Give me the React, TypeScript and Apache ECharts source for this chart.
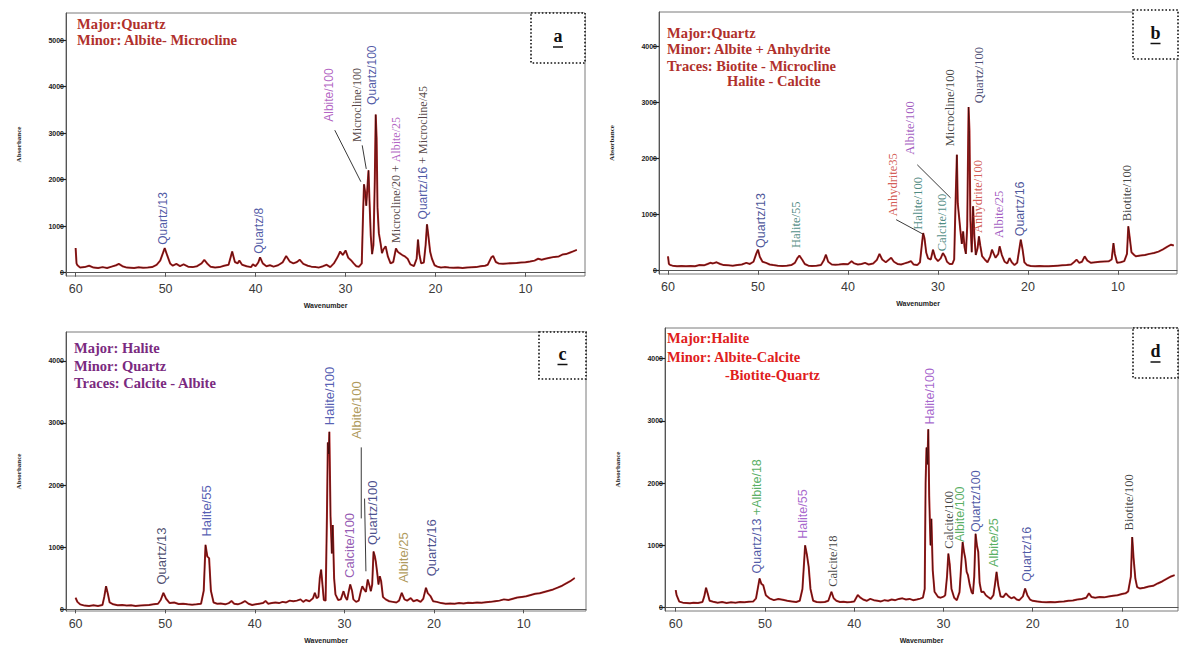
import React, { useEffect, useRef } from "react";
import * as echarts from "echarts";

// ---------- Panel a ----------
const thetaA = [60.0,59.9,59.8,59.5,59.0,58.5,58.0,57.5,57.0,56.5,56.0,55.5,55.2,54.8,54.3,53.5,53.0,52.5,52.0,51.5,51.0,50.6,50.3,50.1,49.8,49.5,49.2,48.8,48.4,48.0,47.5,47.0,46.5,46.0,45.7,45.3,45.0,44.5,44.0,43.5,43.0,42.6,42.3,42.0,41.8,41.5,41.0,40.5,40.3,40.0,39.7,39.5,39.2,38.8,38.4,38.0,37.5,37.0,36.6,36.2,35.8,35.4,35.1,34.7,34.2,33.8,33.3,33.0,32.5,32.1,31.7,31.3,30.9,30.6,30.3,30.0,29.7,29.4,29.1,28.8,28.5,28.2,28.05,27.95,27.8,27.7,27.55,27.45,27.35,27.2,27.05,26.9,26.75,26.65,26.55,26.45,26.3,26.1,25.95,25.8,25.55,25.3,25.0,24.7,24.4,24.2,24.0,23.7,23.4,23.1,22.8,22.4,22.1,21.95,21.8,21.6,21.3,21.1,20.95,20.8,20.6,20.4,20.1,19.8,19.4,19.0,18.5,18.0,17.5,17.0,16.5,16.0,15.5,15.0,14.5,14.2,13.8,13.6,13.3,13.0,12.5,12.0,11.5,11.0,10.5,10.0,9.5,9.0,8.6,8.2,7.8,7.3,6.8,6.3,5.9,5.5,5.1,4.7,4.3];
const countsA = [530,200,160,110,120,150,110,100,120,100,130,160,190,140,110,100,115,105,110,120,170,260,420,530,360,200,150,190,140,180,130,120,140,200,275,180,130,110,120,150,170,455,230,200,260,170,140,120,180,140,220,330,200,140,160,130,160,220,360,240,200,230,280,190,150,130,120,110,140,170,120,200,330,455,380,480,320,270,200,140,130,200,1300,1900,1700,1440,1900,2200,1600,800,400,600,2000,3400,2900,1400,850,620,420,500,570,350,200,230,520,450,420,380,350,300,180,140,300,710,400,200,220,600,1040,800,450,300,160,130,110,120,110,105,110,100,110,115,120,140,150,170,330,360,230,200,190,200,205,210,220,225,240,260,300,280,300,320,340,350,390,400,430,460,490];
const labelTextA = ["Quartz/13","Quartz/8","Albite/100","Microcline/100","Quartz/100","{k|Microcline/20 + }{p|Albite/25}","{q|Quartz/16}{k| + Microcline/45}"];
const labelXA = [50.25,39.6,31.85,28.7,27.1,24.4,21.35];
const labelYA = [600,406,3246,2811,3609,638,1145];
const labelColorA = ["#1f2f8f","#1f2f8f","#a03cb4","#2b1414","#1f2f8f","#2b1414","#2b1414"];
const labelFontA = ["sans","sans","sans","serif","sans","serif","sans"];
const leadersA = [[[31.2,3065],[28.3,1957]],[[28.15,2739],[27.7,2232]]];
const headerA = ["Major:Quartz","Minor: Albite- Microcline"];

// ---------- Panel b ----------
const thetaB = [60.0,59.9,59.75,59.5,59.0,58.5,58.0,57.5,57.0,56.5,56.0,55.6,55.3,55.0,54.6,54.2,53.8,53.3,52.8,52.3,51.8,51.3,50.9,50.5,50.2,50.0,49.8,49.5,49.1,48.7,48.3,47.8,47.3,46.8,46.3,45.9,45.6,45.4,45.1,44.8,44.4,44.0,43.5,43.0,42.7,42.45,42.2,41.8,41.4,41.0,40.5,40.0,39.6,39.3,38.9,38.5,38.1,37.7,37.2,36.8,36.5,36.2,35.8,35.5,35.2,34.9,34.5,34.1,33.7,33.3,33.0,32.7,32.3,32.0,31.8,31.65,31.5,31.3,31.1,30.8,30.55,30.3,30.0,29.7,29.45,29.2,29.0,28.7,28.4,28.2,28.05,27.9,27.8,27.65,27.5,27.35,27.2,27.05,26.9,26.75,26.6,26.5,26.4,26.25,26.1,25.95,25.8,25.6,25.45,25.3,25.1,24.8,24.5,24.2,24.0,23.8,23.6,23.3,23.15,22.9,22.6,22.3,22.05,21.8,21.5,21.2,20.95,20.8,20.6,20.4,20.1,19.7,19.2,18.7,18.2,17.7,17.2,16.7,16.2,15.7,15.2,14.9,14.6,14.3,14.0,13.7,13.4,13.0,12.5,12.0,11.5,11.0,10.7,10.5,10.35,10.1,9.7,9.3,9.0,8.85,8.7,8.5,8.2,8.0,7.5,7.0,6.5,6.0,5.5,5.0,4.5,4.1,3.8];
const countsB = [255,120,100,90,80,85,80,85,80,100,95,120,140,130,150,120,100,95,90,100,110,140,120,160,300,375,250,160,140,110,100,90,85,90,100,140,230,268,200,120,90,85,90,100,180,285,160,110,105,110,120,115,170,130,110,120,140,110,130,190,300,200,150,190,230,160,120,110,130,150,170,110,100,150,450,673,580,320,220,200,375,230,170,220,315,250,160,120,120,200,1200,2070,1200,950,700,480,700,420,300,800,2920,2500,900,330,1150,600,280,400,613,450,260,200,150,250,375,300,230,300,435,280,160,130,226,150,100,140,400,553,380,150,100,85,80,85,80,80,85,90,95,100,110,150,196,140,160,256,180,140,150,160,165,170,200,494,300,140,150,170,300,792,600,330,280,256,270,280,300,315,340,380,430,464,450];
const labelTextB = ["Quartz/13","Halite/55","Anhydrite35","Albite/100","Halite/100","Calcite/100","Microcline/100","Quartz/100","Anhydrite/100","Albite/25","Quartz/16","Biotite/100"];
const labelXB = [49.7,45.8,35.0,33.1,32.25,29.6,28.65,25.4,25.5,23.2,20.85,9.0];
const labelYB = [405,405,970,2071,732,345,2220,2990,673,583,613,881];
const labelColorB = ["#1a2a80","#1d6b5f","#c8322a","#8a2fb0","#1d6b5f","#1d6b5f","#111111","#1a1a50","#c8322a","#8a2fb0","#1a2a80","#111111"];
const labelFontB = ["sans","serif","serif","serif","serif","serif","serif","serif","serif","serif","sans","serif"];
const leadersB = [[[34.65,911],[31.75,660]],[[32.3,1890],[28.6,1300]]];
const headerB = ["Major:Quartz","Minor: Albite + Anhydrite","Traces: Biotite - Microcline","Halite - Calcite"];

// ---------- Panel c ----------
const thetaC = [60.0,59.8,59.5,59.0,58.5,58.0,57.5,57.0,56.8,56.6,56.4,56.2,55.8,55.3,54.8,54.3,53.8,53.3,52.8,52.3,51.8,51.3,50.8,50.5,50.2,49.9,49.5,49.0,48.5,48.0,47.5,47.0,46.5,46.0,45.7,45.5,45.3,45.1,44.9,44.6,44.2,43.8,43.3,42.9,42.6,42.3,41.9,41.5,41.1,40.7,40.3,39.9,39.5,39.1,38.8,38.5,38.1,37.7,37.3,36.9,36.5,36.1,35.7,35.3,34.9,34.6,34.3,33.9,33.5,33.3,33.1,32.9,32.75,32.6,32.45,32.3,32.1,31.95,31.85,31.75,31.68,31.55,31.4,31.3,31.15,31.0,30.7,30.4,30.1,29.9,29.7,29.5,29.35,29.15,29.0,28.7,28.4,28.15,28.0,27.8,27.6,27.4,27.2,27.05,26.9,26.75,26.6,26.5,26.35,26.2,26.05,25.9,25.7,25.4,25.0,24.6,24.2,23.9,23.6,23.3,23.0,22.6,22.3,21.9,21.5,21.2,20.9,20.7,20.4,20.1,19.7,19.2,18.7,18.2,17.7,17.2,16.7,16.2,15.7,15.2,14.7,14.2,13.7,13.2,12.7,12.2,11.7,11.2,10.7,10.2,9.7,9.2,8.7,8.2,7.7,7.2,6.7,6.2,5.7,5.2,4.8,4.3];
const countsC = [186,120,80,60,55,65,55,70,200,372,250,110,80,65,70,60,65,55,60,65,70,80,90,150,266,170,100,110,85,90,80,75,80,90,300,1037,850,824,300,110,90,95,80,100,133,90,80,100,133,90,70,80,90,100,133,90,100,110,100,120,110,140,130,140,160,120,150,130,180,266,180,200,500,638,400,150,140,1500,2686,2500,2856,1500,900,1356,500,240,150,160,292,200,150,300,400,300,160,120,140,300,372,320,280,479,380,292,400,930,850,771,600,400,532,450,200,160,130,120,110,140,266,160,140,180,130,150,120,170,346,260,213,130,120,100,90,95,90,100,95,105,100,110,105,115,120,130,140,160,150,170,190,200,210,230,250,260,280,300,320,350,380,420,452,505];
const labelTextC = ["Quartz/13","Halite/55","Halite/100","Albite/100","Calcite/100","Quartz/100","Albite/25","Quartz/16"];
const labelXC = [50.4,45.4,31.65,28.6,29.4,26.9,23.4,20.3];
const labelYC = [399,1170,2963,2740,505,1037,426,532];
const labelColorC = ["#1c1c4a","#2a35a0","#2a35a0","#9a8030","#7a30a0","#1c2470","#9a8030","#1c2470"];
const labelFontC = ["sans","sans","sans","sans","sans","sans","sans","sans"];
const leadersC = [[[28.12,2606],[28.12,1463]],[[27.75,1782],[27.6,612]]];
const headerC = ["Major: Halite","Minor: Quartz","Traces: Calcite - Albite"];

// ---------- Panel d ----------
const thetaD = [60.0,59.9,59.6,59.2,58.8,58.4,58.0,57.5,57.0,56.8,56.6,56.4,56.2,55.8,55.3,54.8,54.3,53.8,53.3,52.8,52.3,51.8,51.3,51.0,50.75,50.6,50.4,50.2,49.9,49.5,49.0,48.5,48.0,47.5,47.0,46.5,46.1,45.8,45.5,45.3,45.1,44.9,44.6,44.2,43.8,43.3,42.9,42.55,42.3,42.0,41.6,41.2,40.8,40.4,40.0,39.6,39.3,39.0,38.6,38.2,37.8,37.4,37.0,36.6,36.2,35.8,35.4,35.0,34.6,34.2,33.8,33.4,33.0,32.6,32.3,32.1,32.0,31.9,31.8,31.7,31.6,31.45,31.35,31.2,31.0,30.6,30.3,30.0,29.8,29.6,29.45,29.3,29.1,28.8,28.5,28.2,28.0,27.85,27.7,27.55,27.4,27.25,27.05,26.85,26.7,26.55,26.4,26.25,26.1,25.95,25.75,25.5,25.25,25.0,24.7,24.4,24.2,24.05,23.85,23.6,23.3,23.0,22.7,22.4,22.1,21.8,21.5,21.1,20.85,20.6,20.3,20.0,19.5,19.0,18.5,18.0,17.5,17.0,16.5,16.0,15.5,15.0,14.5,14.0,13.7,13.4,13.0,12.5,12.0,11.5,11.0,10.5,10.0,9.6,9.3,9.0,8.85,8.7,8.5,8.3,8.0,7.5,7.0,6.5,6.0,5.5,5.0,4.5,4.1];
const countsD = [282,200,96,80,75,69,80,75,90,180,319,220,110,96,80,90,75,85,80,90,85,96,100,150,350,468,380,362,200,149,120,140,125,110,100,90,110,300,1000,850,654,300,110,90,85,90,110,255,150,110,90,95,85,90,100,202,160,130,110,140,120,110,100,120,110,130,120,140,149,130,140,120,130,145,160,300,2000,2570,2300,2862,1800,1000,1425,600,255,170,160,176,200,500,867,700,300,160,120,250,700,1053,900,787,574,520,362,250,220,500,1186,1000,894,400,250,255,200,170,140,200,400,574,350,180,170,229,180,150,170,130,120,180,308,200,130,110,100,90,85,90,85,95,100,110,115,130,140,160,229,170,160,170,165,180,190,200,220,230,260,500,1133,800,468,330,308,320,340,350,388,420,460,500,521];
const labelTextD = ["{q|Quartz/13 }{g|+Albite/18}","Halite/55","Calcite/18","Halite/100","Calcite/100","Albite/100","Quartz/100","Albite/25","Quartz/16","Biotite/100"];
const labelXD = [50.86,45.7,42.4,31.5,29.4,28.1,26.4,24.3,20.66,9.16];
const labelYD = [548,1106,335,2941,947,1053,1213,654,415,1239];
const labelColorD = ["#1f2f8f","#9040c0","#111111","#9040c0","#111111","#2e9a3a","#1f2f8f","#2e9a3a","#1f2f8f","#111111"];
const labelFontD = ["sans","sans","serif","sans","serif","sans","sans","sans","sans","serif"];
const leadersD: number[][][] = [];
const headerD = ["Major:Halite","Minor: Albite-Calcite","-Biotite-Quartz"];

const xTicks = [10, 20, 30, 40, 50, 60];
const yTicksA = [0, 1000, 2000, 3000, 4000, 5000];
const yTicksBCD = [0, 1000, 2000, 3000, 4000];

const SANS = '"Liberation Sans", Arial, sans-serif';
const SERIF = '"Liberation Serif", "Times New Roman", serif';

type PanelCfg = {
  theta: number[]; counts: number[];
  labels: string[]; lx: number[]; ly: number[]; lc: string[]; lf: string[];
  leaders: number[][][];
  grid: { left: number; top: number; width: number; height: number };
  xMin: number; xMax: number; yMin: number; yMax: number; yTicks: number[];
  fontSize: number;
};

const panels: PanelCfg[] = [
  { theta: thetaA, counts: countsA, labels: labelTextA, lx: labelXA, ly: labelYA, lc: labelColorA, lf: labelFontA, leaders: leadersA,
    grid: { left: 66, top: 13, width: 519, height: 263 }, xMin: 3.39, xMax: 61.07, yMin: -71, yMax: 5585, yTicks: yTicksA, fontSize: 12 },
  { theta: thetaB, counts: countsB, labels: labelTextB, lx: labelXB, ly: labelYB, lc: labelColorB, lf: labelFontB, leaders: leadersB,
    grid: { left: 659, top: 12, width: 518, height: 262 }, xMin: 3.44, xMax: 61.0, yMin: -59, yMax: 4617, yTicks: yTicksBCD, fontSize: 12.5 },
  { theta: thetaC, counts: countsC, labels: labelTextC, lx: labelXC, ly: labelYC, lc: labelColorC, lf: labelFontC, leaders: leadersC,
    grid: { left: 66, top: 332, width: 520, height: 281 }, xMin: 3.04, xMax: 61.07, yMin: -27, yMax: 4463, yTicks: yTicksBCD, fontSize: 13 },
  { theta: thetaD, counts: countsD, labels: labelTextD, lx: labelXD, ly: labelYD, lc: labelColorD, lf: labelFontD, leaders: leadersD,
    grid: { left: 665, top: 328, width: 513, height: 285 }, xMin: 3.72, xMax: 61.2, yMin: -54, yMax: 4489, yTicks: yTicksBCD, fontSize: 12.5 },
];

const richStyles = (fs: number) => ({
  k: { color: "#2b1414", fontFamily: SERIF, fontSize: fs },
  p: { color: "#a03cb4", fontFamily: SERIF, fontSize: fs },
  q: { color: "#1f2f8f", fontFamily: SANS, fontSize: fs },
  g: { color: "#2e9a3a", fontFamily: SANS, fontSize: fs },
});

function headerTexts(lines: string[], xs: number[], ys: number[], color: string) {
  return lines.map((t, i) => ({
    type: "text",
    silent: true,
    style: { text: t, x: xs[i], y: ys[i], fill: color, font: `bold 14.5px ${SERIF}`, textVerticalAlign: "middle" },
  }));
}

function letterBox(x: number, y: number, w: number, h: number, letter: string) {
  return [
    { type: "rect", silent: true, shape: { x, y, width: w, height: h },
      style: { fill: "#fff", stroke: "#111", lineWidth: 1.6, lineDash: [1.6, 2] } },
    { type: "text", silent: true,
      style: { text: letter, x: x + w / 2, y: y + h / 2 - 2, fill: "#111", font: `bold 18px ${SERIF}`, textAlign: "center", textVerticalAlign: "middle" } },
    { type: "line", silent: true, shape: { x1: x + w / 2 - 5, y1: y + h / 2 + 9, x2: x + w / 2 + 5, y2: y + h / 2 + 9 },
      style: { stroke: "#111", lineWidth: 1.5 } },
  ];
}

export default function App() {
  const ref = useRef<HTMLDivElement>(null);
  useEffect(() => {
    if (!ref.current) return;
    const chart = echarts.init(ref.current, null, { renderer: "svg" });
    const grids = panels.map((p) => ({ ...p.grid, show: true, borderColor: "#7a7a7a", borderWidth: 1, backgroundColor: "transparent", containLabel: false }));
    const xAxes = panels.map((p, i) => ({
      type: "value", gridIndex: i, inverse: true, min: p.xMin, max: p.xMax,
      name: "Wavenumber", nameLocation: "middle", nameGap: 26,
      nameTextStyle: { fontSize: 7, fontWeight: "bold", color: "#222", fontFamily: SANS },
      axisLine: { show: true, lineStyle: { color: "#555", width: 1 } },
      axisTick: { show: true, customValues: xTicks, length: 4, lineStyle: { color: "#555" } },
      axisLabel: { show: true, customValues: xTicks, fontSize: 12.5, color: "#3a3a3a", fontFamily: SANS, margin: 6,
        formatter: (v: number) => String(Math.round(v)) },
      splitLine: { show: false },
    }));
    const yAxes = panels.map((p, i) => ({
      type: "value", gridIndex: i, min: p.yMin, max: p.yMax,
      name: "Absorbance", nameLocation: "middle", nameGap: 44, nameRotate: 90,
      nameTextStyle: { fontSize: 7, fontWeight: "bold", color: "#222", fontFamily: SERIF },
      axisLine: { show: true, lineStyle: { color: "#555", width: 1 } },
      axisTick: { show: true, customValues: p.yTicks, length: 6, lineStyle: { color: "#222", width: 1.2 } },
      axisLabel: { show: true, customValues: p.yTicks, fontSize: 7, fontWeight: "bold", color: "#222", fontFamily: SANS, margin: 2,
        formatter: (v: number) => String(Math.round(v)) },
      splitLine: { show: false },
    }));
    const series: any[] = [];
    panels.forEach((p, i) => {
      const data = p.theta.map((t, j) => [t, p.counts[j]]);
      series.push({ type: "line", xAxisIndex: i, yAxisIndex: i, data, showSymbol: false, silent: true,
        lineStyle: { color: "#b82525", width: 2 }, z: 2 });
      series.push({ type: "line", xAxisIndex: i, yAxisIndex: i, data, showSymbol: false, silent: true,
        lineStyle: { color: "#2a0a0a", width: 0.8, opacity: 0.85 }, z: 3 });
      p.leaders.forEach((seg) => {
        series.push({ type: "line", xAxisIndex: i, yAxisIndex: i, data: seg, showSymbol: false, silent: true,
          lineStyle: { color: "#222", width: 0.9 }, z: 4 });
      });
      series.push({
        type: "scatter", xAxisIndex: i, yAxisIndex: i, symbolSize: 1, silent: true, z: 5,
        itemStyle: { color: "rgba(0,0,0,0)" },
        label: { show: true, position: "inside", rotate: 90, align: "left", verticalAlign: "middle",
          fontSize: p.fontSize, rich: richStyles(p.fontSize) },
        data: p.labels.map((t, j) => ({
          value: [p.lx[j], p.ly[j]],
          label: { formatter: t, color: p.lc[j], fontFamily: p.lf[j] === "serif" ? SERIF : SANS },
        })),
      });
    });
    const graphic: any[] = [
      ...headerTexts(headerA, [77, 77], [24, 40], "#b0302c"),
      ...headerTexts(headerB, [667, 667, 667, 727], [33, 49, 66, 81], "#b0302c"),
      ...headerTexts(headerC, [74, 74, 74], [348, 366, 383], "#7a2a80"),
      ...headerTexts(headerD, [667, 667, 725], [338, 357, 375], "#e0201c"),
      ...letterBox(531, 13, 54, 50, "a"),
      ...letterBox(1133, 10, 45, 49, "b"),
      ...letterBox(539, 332, 47, 47, "c"),
      ...letterBox(1133, 328, 45, 50, "d"),
    ];
    chart.setOption({
      animation: false,
      backgroundColor: "#fff",
      grid: grids,
      xAxis: xAxes,
      yAxis: yAxes,
      series,
      graphic,
    });
    return () => chart.dispose();
  }, []);
  return <div ref={ref} style={{ position: "fixed", left: 0, top: 0, width: 1179, height: 645, background: "#fff" }} />;
}
